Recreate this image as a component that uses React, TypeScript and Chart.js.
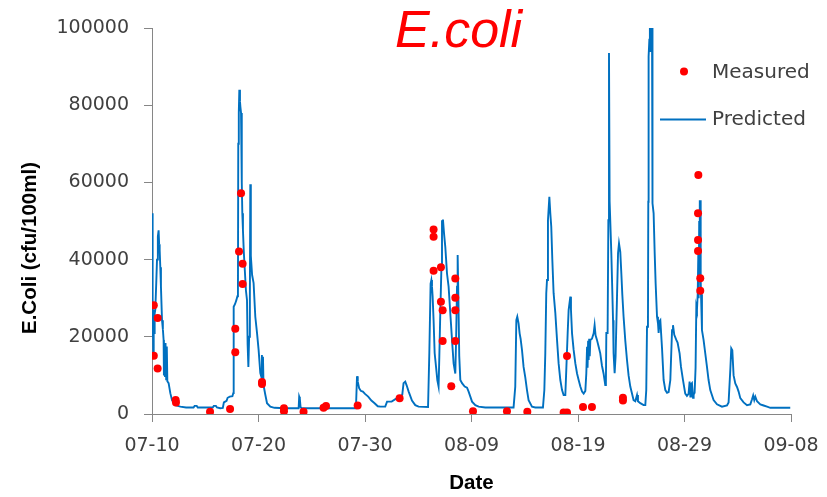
import React, { useEffect, useRef } from "react";
import { Chart, registerables } from "chart.js";

Chart.register(...registerables);

// x values are days since 07-10
const dateTickLabels = ["07-10", "07-20", "07-30", "08-09", "08-19", "08-29", "09-08"];
const yTickValues = [0, 20000, 40000, 60000, 80000, 100000];

const predictedDay = [
  0, 0.03, 0.06, 0.09, 0.12, 0.16, 0.2, 0.25, 0.31, 0.4, 0.47, 0.55, 0.62, 0.67, 0.72, 0.78, 0.84, 0.94,
  1.02, 1.09, 1.12, 1.17, 1.22, 1.27, 1.33, 1.39, 1.44, 1.56, 1.72, 1.88, 2.19, 2.66, 3.2, 3.9, 4.0, 4.2,
  4.3, 5.0, 5.7, 5.8, 6.0, 6.1, 6.4, 6.65, 6.75, 7.0, 7.1, 7.3, 7.55, 7.63, 7.67, 7.8, 7.92, 8.02, 8.07,
  8.1, 8.15, 8.2, 8.26, 8.3, 8.36, 8.41, 8.45, 8.48, 8.54, 8.62, 8.72, 8.82, 8.92, 8.98, 9.05, 9.12, 9.19,
  9.23, 9.28, 9.4, 9.54, 9.7, 9.86, 10.01, 10.17, 10.28, 10.32, 10.37, 10.42, 10.47, 10.64, 10.8, 11.11,
  11.5, 12.5, 13.77, 13.82, 13.88, 13.95, 14.05, 15.8, 15.9, 16.4, 16.5, 19.15, 19.25, 19.32, 19.45, 19.6,
  19.8, 20.0, 20.3, 20.6, 20.9, 21.2, 21.44, 21.9, 22.07, 22.5, 23.0, 23.3, 23.5, 23.62, 23.78, 23.9, 24.1,
  24.41, 24.72, 25.03, 25.92, 26.04, 26.16, 26.23, 26.29, 26.35, 26.44, 26.54, 26.67, 26.79, 26.91, 26.98,
  27.07, 27.17, 27.23, 27.28, 27.32, 27.42, 27.54, 27.7, 27.85, 28.01, 28.17, 28.32, 28.48, 28.56, 28.64,
  28.7, 28.77, 28.85, 28.95, 29.11, 29.36, 29.58, 29.73, 29.89, 30.05, 30.36, 30.67, 31.3, 33.95, 34.11,
  34.21, 34.3, 34.42, 34.52, 34.61, 34.74, 34.89, 35.05, 35.21, 35.36, 35.68, 35.99, 36.71, 36.84, 36.93,
  37.02, 37.09, 37.18, 37.31, 37.4, 37.49, 37.59, 37.71, 37.87, 38.03, 38.18, 38.34, 38.5, 38.65, 38.81,
  38.9, 39.03, 39.12, 39.28, 39.34, 39.44, 39.59, 39.75, 39.91, 40.06, 40.22, 40.38, 40.53, 40.69, 40.78,
  40.85, 40.9, 40.95, 41.0, 41.05, 41.1, 41.16, 41.31, 41.47, 41.56, 41.65, 41.78, 41.94, 42.09, 42.25,
  42.4, 42.56, 42.62, 42.66, 42.78, 42.85, 42.91, 42.97, 43.03, 43.13, 43.22, 43.29, 43.34, 43.44, 43.53,
  43.66, 43.76, 43.85, 43.97, 44.07, 44.16, 44.28, 44.44, 44.6, 44.75, 44.91, 45.07, 45.22, 45.38, 45.54,
  45.63, 45.85, 46.16, 46.32, 46.41, 46.48, 46.57, 46.6, 46.63, 46.7, 46.75, 46.8, 46.85, 46.95, 46.98,
  47.01, 47.1, 47.2, 47.29, 47.42, 47.51, 47.57, 47.65, 47.73, 47.89, 48.04, 48.2, 48.36, 48.51, 48.67,
  48.83, 48.92, 49.04, 49.23, 49.35, 49.54, 49.67, 49.86, 50.07, 50.23, 50.38, 50.48, 50.55, 50.61, 50.7,
  50.8, 50.86, 50.95, 51.04, 51.11, 51.17, 51.24, 51.3, 51.33, 51.38, 51.42, 51.45, 51.48, 51.52, 51.55,
  51.64, 51.79, 51.95, 52.11, 52.26, 52.42, 52.73, 53.05, 53.52, 53.99, 54.14, 54.3, 54.39, 54.49, 54.61,
  54.77, 54.93, 55.08, 55.24, 55.55, 55.87, 56.18, 56.34, 56.45, 56.55, 56.65, 56.81, 57.12, 57.43, 57.75,
  58.06, 59.93,
];

const predictedCfu = [
  52000, 33000, 20000, 30000, 16000, 27000, 21000, 26000, 27000, 34000, 40000, 46000, 47600, 44000, 42500, 38000, 33000, 24300,
  22000, 19200, 10000, 18000, 9600, 18400, 9000, 17500, 8500, 8000, 5400, 3600, 2300, 1900, 1700, 1700, 2100, 2100,
  1700, 1700, 1700, 2100, 2100, 1700, 1500, 1600, 3000, 3400, 4200, 4500, 4600, 5400, 27800, 28500, 29500, 30500, 31000,
  70000, 78000, 84000, 81000, 79600, 78000, 73600, 60000, 52000, 47600, 42000, 37000, 32000, 29500, 18000, 12200, 20000, 30000,
  59500, 41000, 36000, 33900, 25200, 21000, 16600, 10600, 9500, 15300, 9000, 14800, 7500, 5000, 2800, 1900,
  1600, 1500, 1500, 4500, 4000, 1800, 1500, 1500, 2100, 2100, 1500, 1500, 9800, 8400, 6700, 6000,
  5800, 5200, 4500, 3500, 2800, 2000, 1900, 1900, 3200, 3200, 4100, 4500, 5000, 8000, 8400, 7500, 5800,
  3500, 2300, 1900, 1800, 15800, 33800, 34700, 33000, 30400, 24300, 15800, 12200, 8800, 7100, 15000,
  26200, 37300, 50200, 48000, 50400, 46800, 43300, 36400, 33000, 26100, 19200, 13100, 10500, 20000, 33000,
  41200, 30000, 15000, 8800, 8000, 7100, 6800, 5800, 4500, 3200, 2300, 1900, 1700, 1700, 7100,
  24300, 25200, 23500, 20900, 19500, 16600, 12200, 9500, 6200, 3600, 1900, 1700, 1700, 6200, 15800,
  31300, 34700, 50200, 56300, 52000, 48500, 39900, 31300, 26200, 19200, 13100, 8800, 6200, 4900, 4900,
  11400, 21000, 26900, 30400, 27000, 20900, 16600, 13100, 10500, 8800, 7100, 5800, 5300, 6000, 10500,
  17400, 12000, 19000, 14000, 19500, 15000, 19200, 19500, 20900, 23000, 20400, 19200, 17400, 15700, 12500,
  10500, 7500, 8000, 21000, 21000, 50200, 93500, 55000, 50000, 41600, 32000, 24300, 15800, 10600, 15000,
  30000, 41700, 44200, 42000, 36400, 31000, 25200, 19000, 14000, 10000, 7100, 5300, 3600, 3300, 4900,
  3300, 2800, 2300, 2300, 6200, 22600, 23500, 55000, 92600, 97000, 100000, 94000, 100000, 100000, 56000,
  54600, 52000, 41700, 33800, 25200, 23500, 21000, 24000, 24300, 17000, 8800, 6200, 5500, 5700, 8800,
  21700, 23000, 20500, 19200, 18500, 15700, 12200, 8800, 5300, 4700, 5200, 8400, 4500, 7700, 8000,
  4200, 5000, 5500, 12000, 27800, 27000, 31000, 42000, 30000, 50000, 55400, 40000, 55400, 35000, 31000,
  21700, 19200, 15700, 12200, 8800, 6200, 3600, 2500, 1900, 2200, 3000, 11400, 17000, 16500, 10000,
  7900, 7000, 5800, 4100, 3000, 2300, 2500, 3800, 4800, 3600, 4500, 3300, 2500, 2200, 1900,
  1600, 1600,
];

const measuredDay = [
  0.17, 0.53, 0.17, 0.53, 2.22, 2.25, 5.45, 7.33, 7.82, 7.82, 8.17, 8.36, 8.51, 8.51, 10.33, 10.33,
  12.39, 12.39, 14.23, 16.11, 16.34, 19.31, 23.25, 26.44, 26.44, 26.44, 27.13, 27.13, 27.29, 27.29,
  28.48, 28.48, 28.48, 28.48, 28.1, 30.14, 33.33, 35.24, 38.65, 38.97, 38.97, 40.47, 41.31, 44.22, 44.22,
  51.3, 51.27, 51.27, 51.27, 51.48, 51.48,
];

const measuredCfu = [
  28200, 24900, 15100, 11800, 3600, 3000, 600, 1300, 22100, 16000, 42100, 57200, 38900, 33700, 8300, 7800,
  1500, 700, 600, 1600, 2100, 2200, 4100, 47800, 45900, 37100, 38000, 29100, 26900, 18900,
  35100, 30100, 26900, 18900, 7200, 700, 700, 600, 400, 400, 15000, 1800, 1800, 4200, 3500,
  61900, 52000, 45100, 42200, 35200, 31900,
];

const BLUE = "#0070C0";
const RED = "#FF0000";
const AXIS = "#868686";
const TEXT = "#404040";

const overlayPlugin = {
  id: "overlayText",
  afterDraw(chart: any) {
    const { ctx } = chart;
    ctx.save();
    // Title
    ctx.fillStyle = RED;
    ctx.font = "italic 52px 'Liberation Sans', Arial, sans-serif";
    ctx.textAlign = "left";
    ctx.textBaseline = "alphabetic";
    ctx.fillText("E.coli", 395, 47);

    // Y axis title
    ctx.save();
    ctx.translate(30, 248);
    ctx.rotate(-Math.PI / 2);
    ctx.fillStyle = "#000000";
    ctx.font = "bold 20.5px 'Liberation Sans', Arial, sans-serif";
    ctx.textAlign = "center";
    ctx.textBaseline = "middle";
    ctx.fillText("E.Coli (cfu/100ml)", 0, 0);
    ctx.restore();

    // Legend
    ctx.fillStyle = RED;
    ctx.beginPath();
    ctx.arc(684, 71.5, 4, 0, Math.PI * 2);
    ctx.fill();
    ctx.strokeStyle = BLUE;
    ctx.lineWidth = 2;
    ctx.beginPath();
    ctx.moveTo(660, 119.5);
    ctx.lineTo(706, 119.5);
    ctx.stroke();
    ctx.fillStyle = TEXT;
    ctx.font = "20px 'DejaVu Sans', sans-serif";
    ctx.textAlign = "left";
    ctx.textBaseline = "middle";
    ctx.fillText("Measured", 712, 72.5);
    ctx.fillText("Predicted", 712, 119.5);
    ctx.restore();
  },
};

export default function App() {
  const canvasRef = useRef<HTMLCanvasElement | null>(null);

  useEffect(() => {
    const canvas = canvasRef.current;
    if (!canvas) return;
    const predicted = predictedDay.map((d, i) => ({ x: d, y: predictedCfu[i] }));
    const measured = measuredDay.map((d, i) => ({ x: d, y: measuredCfu[i] }));

    const chart = new Chart(canvas, {
      type: "scatter",
      data: {
        datasets: [
          {
            label: "Measured",
            data: measured,
            pointRadius: 4,
            pointBackgroundColor: RED,
            pointBorderWidth: 0,
            backgroundColor: RED,
            borderColor: RED,
            showLine: false,
          },
          {
            label: "Predicted",
            data: predicted,
            showLine: true,
            pointRadius: 0,
            borderColor: BLUE,
            borderWidth: 1.9,
            tension: 0,
          },
        ],
      },
      options: {
        responsive: false,
        animation: false,
        devicePixelRatio: 1,
        events: [],
        layout: { padding: { top: 28, right: 36, left: 0, bottom: 0 } },
        plugins: {
          legend: { display: false },
          tooltip: { enabled: false },
          title: { display: false },
        },
        scales: {
          x: {
            type: "linear",
            min: 0,
            max: 60,
            afterFit: (scale: any) => {
              scale.height = 83;
              scale.paddingLeft = 0;
              scale.paddingRight = 0;
            },
            ticks: {
              stepSize: 10,
              padding: 13,
              color: TEXT,
              font: { family: "'DejaVu Sans', sans-serif", size: 19 },
              maxRotation: 0,
              autoSkip: false,
              callback: (v: any) => dateTickLabels[Math.round(Number(v) / 10)] ?? "",
            },
            grid: { drawOnChartArea: false, drawTicks: true, tickLength: 8, color: AXIS, lineWidth: 1 },
            border: { display: true, color: AXIS, width: 1 },
            title: {
              display: true,
              text: "Date",
              color: "#000000",
              font: { family: "'Liberation Sans', Arial, sans-serif", size: 20.5, weight: "bold" },
              padding: { top: 0, bottom: 1 },
            },
          },
          y: {
            type: "linear",
            min: 0,
            max: 100000,
            afterFit: (scale: any) => {
              scale.width = 152;
              scale.paddingTop = 0;
              scale.paddingBottom = 0;
            },
            afterBuildTicks: (scale: any) => {
              scale.ticks = yTickValues.map((v) => ({ value: v }));
            },
            ticks: {
              padding: 15,
              color: TEXT,
              font: { family: "'DejaVu Sans', sans-serif", size: 19 },
              callback: (v: any) => String(v),
            },
            grid: { drawOnChartArea: false, drawTicks: true, tickLength: 8, color: AXIS, lineWidth: 1 },
            border: { display: true, color: AXIS, width: 1 },
            title: { display: false },
          },
        },
      },
      plugins: [overlayPlugin],
    });

    return () => {
      chart.destroy();
    };
  }, []);

  return (
    <div style={{ position: "absolute", left: 0, top: 0, width: 827, height: 497, background: "#ffffff" }}>
      <canvas ref={canvasRef} width={827} height={497} style={{ display: "block" }} />
    </div>
  );
}
